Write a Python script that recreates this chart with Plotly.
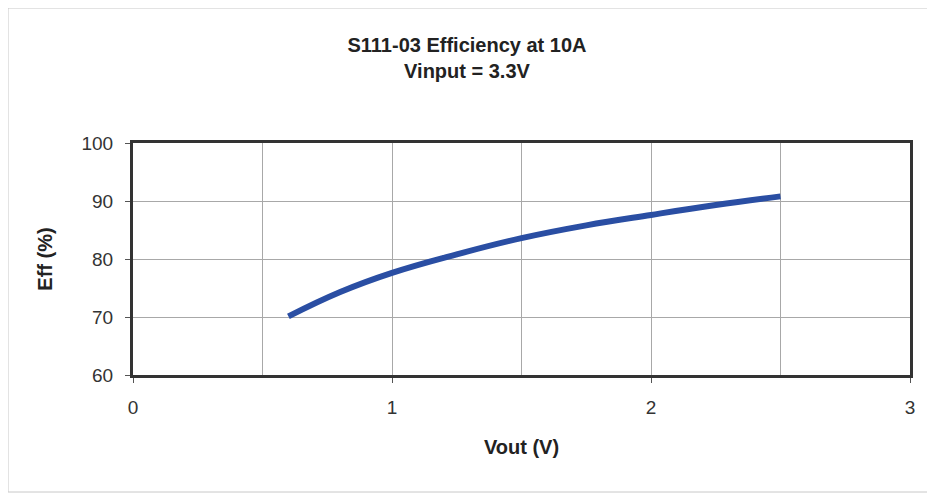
import plotly.graph_objects as go

# Efficiency curve
vout = [0.6, 0.8, 1.0, 1.25, 1.5, 1.75, 2.0, 2.25, 2.5]
eff = [70.1, 74.3, 77.6, 80.8, 83.6, 85.8, 87.6, 89.3, 90.8]

x_ticks = [0, 1, 2, 3]
y_ticks = [60, 70, 80, 90, 100]

FONT = "Liberation Sans, Arial, sans-serif"

# the page body adds an 8px margin, so the figure is a bit smaller than the window
W, H = 927, 486
L, R, T, B = 125, 25, 135, 119


def create_graph():
    fig = go.Figure()

    fig.add_trace(
        go.Scatter(
            x=vout,
            y=eff,
            mode="lines",
            line=dict(color="#2a4ea3", width=6, shape="spline", smoothing=1.2),
            showlegend=False,
        )
    )

    # light frame around the whole chart (paper coords relative to the plot area)
    pw, ph = W - L - R, H - T - B
    fig.add_shape(
        type="rect", xref="paper", yref="paper",
        x0=(0 - L) / pw, x1=(W - 2 - L) / pw,
        y0=-(B - 2) / ph, y1=1 + (T - 0) / ph,
        line=dict(color="#c8c8c8", width=1),
    )

    fig.update_layout(
        width=W,
        height=H,
        margin=dict(l=L, r=R, t=T, b=B),
        paper_bgcolor="white",
        plot_bgcolor="white",
        font=dict(family=FONT, color="#222"),
        title=dict(
            text="<b>S111-03 Efficiency at 10A<br>Vinput = 3.3V</b>",
            x=(467 - 8) / W, xref="container", xanchor="center",
            y=1 - 44 / H, yanchor="top",
            font=dict(size=20, family=FONT, color="#222"),
        ),
        xaxis=dict(
            range=[0, 3],
            tickvals=x_ticks,
            showgrid=True,
            gridcolor="#a8a8a8",
            gridwidth=1,
            minor=dict(dtick=0.5, showgrid=True, gridcolor="#a8a8a8", gridwidth=1),
            showline=True, linecolor="#333", linewidth=3, mirror=True,
            ticks="outside", ticklen=5, tickcolor="#555",
            ticklabelstandoff=8,
            tickfont=dict(size=19, family=FONT, color="#333"),
            title=dict(text="<b>Vout (V)</b>", standoff=24,
                       font=dict(size=20, family=FONT, color="#222")),
            zeroline=False,
        ),
        yaxis=dict(
            range=[60, 100],
            tickvals=y_ticks,
            showgrid=True,
            gridcolor="#a8a8a8",
            gridwidth=1,
            showline=True, linecolor="#333", linewidth=3, mirror=True,
            ticks="outside", ticklen=5, tickcolor="#555",
            ticklabelstandoff=8,
            tickfont=dict(size=19, family=FONT, color="#333"),
            title=dict(text="<b>Eff (%)</b>", standoff=24,
                       font=dict(size=20, family=FONT, color="#222")),
            zeroline=False,
        ),
    )

    fig.write_html("out.html")


if __name__ == "__main__":
    create_graph()
